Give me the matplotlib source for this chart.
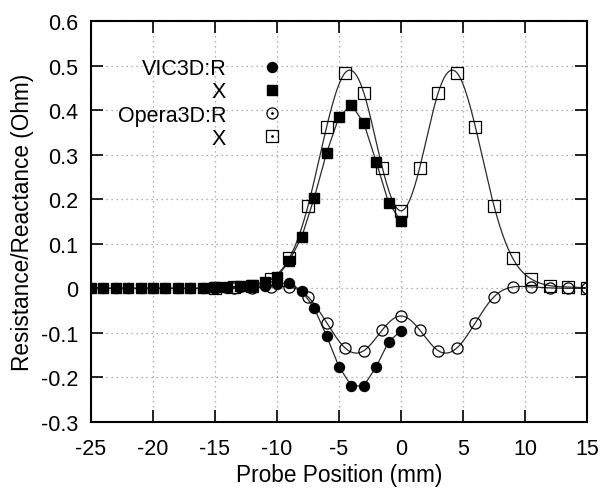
import numpy as np
import matplotlib
matplotlib.use("Agg")
import matplotlib.pyplot as plt
from matplotlib.legend_handler import HandlerTuple

plt.rcParams['font.family'] = ['Liberation Sans', 'DejaVu Sans']

# VIC3D data (1 mm step, -25 .. 0)
vic_x = [-25, -24, -23, -22, -21, -20, -19, -18, -17, -16, -15, -14, -13,
         -12, -11, -10, -9, -8, -7, -6, -5, -4, -3, -2, -1, 0]
vic_R = [0.0, 0.0, 0.0, 0.0, 0.0, 0.0, 0.0, 0.0, 0.0, 0.0, 0.0, 0.001, 0.002,
         0.003, 0.005, 0.010, 0.012, -0.006, -0.044, -0.107, -0.176, -0.219,
         -0.219, -0.176, -0.120, -0.095]
vic_X = [0.0, 0.0, 0.0, 0.0, 0.0, 0.0, 0.0, 0.0, 0.0, 0.0, 0.002, 0.003, 0.005,
         0.008, 0.014, 0.025, 0.062, 0.116, 0.203, 0.304, 0.385, 0.412, 0.371,
         0.284, 0.192, 0.151]

# Opera3D data (1.5 mm step, -15 .. 15)
op_x = [-15, -13.5, -12, -10.5, -9, -7.5, -6, -4.5, -3, -1.5, 0,
        1.5, 3, 4.5, 6, 7.5, 9, 10.5, 12, 13.5, 15]
op_R = [0.0, 0.0, 0.001, 0.003, 0.003, -0.019, -0.077, -0.134, -0.140, -0.093, -0.062,
        -0.093, -0.140, -0.134, -0.077, -0.019, 0.003, 0.003, 0.001, 0.0, 0.0]
op_X = [0.001, 0.003, 0.006, 0.021, 0.068, 0.185, 0.362, 0.484, 0.439, 0.270, 0.174,
        0.270, 0.439, 0.484, 0.362, 0.185, 0.068, 0.021, 0.006, 0.003, 0.001]

x_ticks = [-25, -20, -15, -10, -5, 0, 5, 10, 15]
x_ticklabels = ["-25", "-20", "-15", "-10", "-5", "0", "5", "10", "15"]
y_ticks = [-0.3, -0.2, -0.1, 0.0, 0.1, 0.2, 0.3, 0.4, 0.5, 0.6]
y_ticklabels = ["-0.3", "-0.2", "-0.1", "0", "0.1", "0.2", "0.3", "0.4", "0.5", "0.6"]


def natural_spline(x, y, xs):
    x = np.asarray(x, float)
    y = np.asarray(y, float)
    n = len(x)
    h = np.diff(x)
    A = np.zeros((n, n))
    b = np.zeros(n)
    A[0, 0] = 1
    A[-1, -1] = 1
    for i in range(1, n - 1):
        A[i, i - 1] = h[i - 1]
        A[i, i] = 2 * (h[i - 1] + h[i])
        A[i, i + 1] = h[i]
        b[i] = 6 * ((y[i + 1] - y[i]) / h[i] - (y[i] - y[i - 1]) / h[i - 1])
    M = np.linalg.solve(A, b)
    idx = np.clip(np.searchsorted(x, xs) - 1, 0, n - 2)
    x0, x1 = x[idx], x[idx + 1]
    hh = x1 - x0
    t0 = x1 - xs
    t1 = xs - x0
    return (M[idx] * t0 ** 3 / (6 * hh) + M[idx + 1] * t1 ** 3 / (6 * hh)
            + (y[idx] / hh - M[idx] * hh / 6) * t0
            + (y[idx + 1] / hh - M[idx + 1] * hh / 6) * t1)


fig = plt.figure(figsize=(6.0, 4.89), dpi=100)
ax = fig.add_axes([91 / 600, 1 - 423 / 489, 496 / 600, 401 / 489])

fs = 15.5
fsl = 16.3
ms = 7.2
lc = '#2a2a2a'

# VIC3D
ax.plot(vic_x, vic_R, '-', color=lc, lw=0.9, zorder=3)
ax.plot(vic_x, vic_X, '-', color=lc, lw=0.9, zorder=3)
h1, = ax.plot(vic_x, vic_R, 'o', color='black', ms=ms, zorder=4, linestyle='none')
h2, = ax.plot(vic_x, vic_X, 's', color='black', ms=ms, zorder=4, linestyle='none')

# Opera3D smooth curves
xs = np.linspace(min(op_x), max(op_x), 600)
ax.plot(xs, natural_spline(op_x, op_R, xs), '-', color=lc, lw=0.9, zorder=3)
ax.plot(xs, natural_spline(op_x, op_X, xs), '-', color=lc, lw=0.9, zorder=3)
h3, = ax.plot(op_x, op_R, 'o', mfc='none', mec='black', mew=0.9, ms=ms + 0.8,
              linestyle='none', zorder=5)
h4, = ax.plot(op_x, op_X, 's', mfc='none', mec='black', mew=0.9, ms=ms + 0.8,
              linestyle='none', zorder=5)
d3, = ax.plot([], [], '.', color='black', ms=2)
d4, = ax.plot([], [], '.', color='black', ms=2)

ax.set_xlim(-25, 15)
ax.set_ylim(-0.3, 0.6)
ax.set_xticks(x_ticks)
ax.set_xticklabels(x_ticklabels)
ax.set_yticks(y_ticks)
ax.set_yticklabels(y_ticklabels)
ax.tick_params(direction='in', length=8.5, width=1.2, labelsize=fs,
               top=True, right=True)
ax.tick_params(axis='y', pad=9)
ax.tick_params(axis='x', pad=11.5)
ax.grid(True, linestyle=(0, (1, 3)), color='#999999', lw=0.9)
ax.set_axisbelow(True)
for s in ax.spines.values():
    s.set_linewidth(1.5)

ax.set_xlabel('Probe Position (mm)', fontsize=fsl, labelpad=3)
ax.set_ylabel('Resistance/Reactance (Ohm)', fontsize=fsl, labelpad=5)

leg = ax.legend([h1, h2, (h3, d3), (h4, d4)], ['VIC3D:R', 'X', 'Opera3D:R', 'X'],
                handler_map={tuple: HandlerTuple(ndivide=1)},
                loc='upper right', bbox_to_anchor=((294 - 91) / 496, 0.907),
                frameon=False, markerfirst=False, fontsize=fs,
                handlelength=2.0, handletextpad=1.15, labelspacing=0.1,
                borderpad=0, borderaxespad=0)

fig.savefig('out.png', dpi=100)
